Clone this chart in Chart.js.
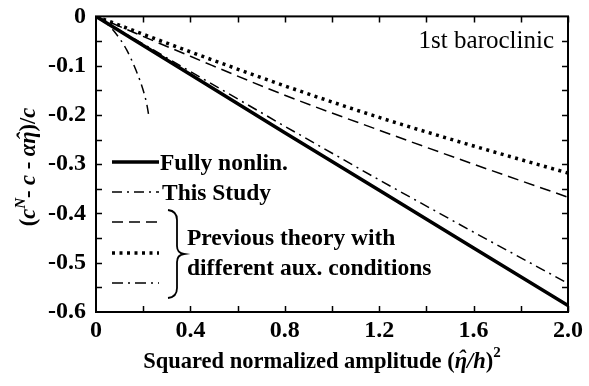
<!DOCTYPE html>
<html>
<head>
    <title>1st baroclinic phase speed</title>
    <script src="https://cdn.jsdelivr.net/npm/chart.js"></script>
    <style>
        body { margin: 0; background: #fff; }
        #wrap { width: 589px; height: 386px; }
    </style>
</head>
<body>
    <div id="wrap"><canvas id="speedChart" width="589" height="386"></canvas></div>
    <script>
        // values
        const xGrid = [0, 0.4, 0.8, 1.2, 1.6, 2.0];
        const fullyNonlin = [0, -0.118, -0.236, -0.353, -0.470, -0.587];
        const thisStudy = [0, -0.112, -0.223, -0.332, -0.438, -0.542];
        const prevDashed = [0, -0.081, -0.160, -0.231, -0.300, -0.367];
        const prevDotted = [0, -0.072, -0.141, -0.205, -0.263, -0.318];
        const prevDashDotX = [0, 0.04, 0.08, 0.13, 0.17, 0.20, 0.215, 0.225];
        const prevDashDotY = [0, -0.012, -0.032, -0.068, -0.110, -0.150, -0.178, -0.205];

        const xTickLabels = ['0', '0.4', '0.8', '1.2', '1.6', '2.0'];
        const yTickLabels = ['-0.6', '-0.5', '-0.4', '-0.3', '-0.2', '-0.1', '0'];

        const serif = '"Liberation Serif", "Times New Roman", serif';
        const toPts = (xs, ys) => xs.map((x, i) => ({ x: x, y: ys[i] }));

        // draw a run of text pieces with different fonts; hat: true puts a circumflex on top
        function drawRuns(ctx, runs, x, y) {
            let cx = x;
            runs.forEach(r => {
                ctx.font = r.font;
                const w = ctx.measureText(r.t).width;
                ctx.fillText(r.t, cx, y + (r.dy || 0));
                if (r.hat) {
                    ctx.save();
                    ctx.textAlign = 'center';
                    ctx.fillText('\u02C6', cx + w / 2 + 1, y - 2);
                    ctx.restore();
                }
                cx += w + (r.gap || 0);
            });
            return cx - x;
        }
        function runsWidth(ctx, runs) {
            let w = 0;
            runs.forEach(r => { ctx.font = r.font; w += ctx.measureText(r.t).width + (r.gap || 0); });
            return w;
        }

        const decorations = {
            id: 'decorations',
            afterDraw(chart) {
                const ctx = chart.ctx;
                const xs = chart.scales.x, ys = chart.scales.y;
                const a = chart.chartArea;
                ctx.save();
                ctx.strokeStyle = '#000';
                ctx.fillStyle = '#000';

                // box
                ctx.lineWidth = 2;
                ctx.strokeRect(a.left, a.top, a.right - a.left, a.bottom - a.top);

                // inward ticks on all four sides
                ctx.lineWidth = 1.5;
                ctx.beginPath();
                for (let v = 0.2; v < 2.0; v += 0.2) {
                    const px = Math.round(xs.getPixelForValue(v)) + 0.5;
                    ctx.moveTo(px, a.bottom); ctx.lineTo(px, a.bottom - 6);
                    ctx.moveTo(px, a.top); ctx.lineTo(px, a.top + 6);
                }
                for (let v = -0.05; v > -0.6; v -= 0.05) {
                    const py = Math.round(ys.getPixelForValue(v)) + 0.5;
                    ctx.moveTo(a.left, py); ctx.lineTo(a.left + 6, py);
                    ctx.moveTo(a.right, py); ctx.lineTo(a.right - 6, py);
                }
                ctx.stroke();

                // legend samples
                const sx0 = 112, sx1 = 159;
                const sample = (y, w, dash) => {
                    ctx.lineWidth = w;
                    ctx.setLineDash(dash);
                    ctx.beginPath();
                    ctx.moveTo(sx0, y); ctx.lineTo(sx1, y);
                    ctx.stroke();
                };
                sample(162, 3.5, []);
                sample(192, 1.5, [10, 5, 2, 5]);
                sample(222, 1.5, [11, 6]);
                sample(253, 3.5, [3, 4.5]);
                sample(283, 1.5, [11, 5, 2, 5]);
                ctx.setLineDash([]);

                // brace
                ctx.lineWidth = 1.8;
                ctx.beginPath();
                ctx.moveTo(168, 210);
                ctx.quadraticCurveTo(177, 211, 177, 220);
                ctx.lineTo(177, 246);
                ctx.quadraticCurveTo(177, 253, 184, 254);
                ctx.quadraticCurveTo(177, 255, 177, 262);
                ctx.lineTo(177, 288);
                ctx.quadraticCurveTo(177, 297, 168, 298);
                ctx.stroke();

                // legend text
                ctx.textBaseline = 'alphabetic';
                ctx.textAlign = 'left';
                ctx.font = 'bold 23.5px ' + serif;
                ctx.fillText('Fully nonlin.', 160, 170);
                ctx.fillText('This Study', 162, 200);
                ctx.fillText('Previous theory with', 187, 245);
                ctx.fillText('different aux. conditions', 187, 275);

                // panel label
                ctx.font = '25px ' + serif;
                ctx.textAlign = 'right';
                ctx.fillText('1st baroclinic', 554, 48);
                ctx.textAlign = 'left';

                // x title
                const reg = 'bold 22.5px ' + serif;
                const ita = 'italic bold 22.5px ' + serif;
                const sup = 'bold 15px ' + serif;
                const xRuns = [
                    { t: 'Squared normalized amplitude (', font: reg },
                    { t: '\u03B7', font: ita, hat: true },
                    { t: '/h', font: ita },
                    { t: ')', font: reg },
                    { t: '2', font: sup, dy: -11 }
                ];
                const xw = runsWidth(ctx, xRuns);
                drawRuns(ctx, xRuns, 322 - xw / 2, 368);

                // y title (rotated)
                const supI = 'italic bold 15px ' + serif;
                const yRuns = [
                    { t: '(', font: reg },
                    { t: 'c', font: ita },
                    { t: 'N', font: supI, dy: -10 },
                    { t: '- ', font: reg },
                    { t: 'c', font: ita },
                    { t: ' - ', font: reg },
                    { t: '\u03B1', font: ita },
                    { t: '\u03B7', font: ita, hat: true },
                    { t: ')/', font: reg },
                    { t: 'c', font: ita }
                ];
                const yw = runsWidth(ctx, yRuns);
                ctx.translate(35, 167);
                ctx.rotate(-Math.PI / 2);
                drawRuns(ctx, yRuns, -yw / 2, 0);
                ctx.restore();
            }
        };

        const tickFont = { family: serif, size: 24, weight: 'bold' };

        new Chart(document.getElementById('speedChart'), {
            type: 'line',
            data: {
                datasets: [
                    { label: 'Fully nonlin.', data: toPts(xGrid, fullyNonlin), borderColor: '#000', borderWidth: 3.5, pointRadius: 0, tension: 0 },
                    { label: 'This Study', data: toPts(xGrid, thisStudy), borderColor: '#000', borderWidth: 1.5, borderDash: [10, 5, 2, 5], pointRadius: 0, tension: 0 },
                    { label: 'Previous (dashed)', data: toPts(xGrid, prevDashed), borderColor: '#000', borderWidth: 1.5, borderDash: [11, 6], pointRadius: 0, cubicInterpolationMode: 'monotone' },
                    { label: 'Previous (dotted)', data: toPts(xGrid, prevDotted), borderColor: '#000', borderWidth: 3.5, borderDash: [3, 4.5], pointRadius: 0, cubicInterpolationMode: 'monotone' },
                    { label: 'Previous (dash-dot)', data: toPts(prevDashDotX, prevDashDotY), borderColor: '#000', borderWidth: 1.5, borderDash: [9, 5, 2, 5], pointRadius: 0, cubicInterpolationMode: 'monotone' }
                ]
            },
            options: {
                responsive: false,
                animation: false,
                layout: { padding: { left: 0, top: 16, right: 21, bottom: 0 } },
                plugins: { legend: { display: false }, tooltip: { enabled: false } },
                scales: {
                    x: {
                        type: 'linear', min: 0, max: 2.0,
                        grid: { display: false }, border: { display: false },
                        ticks: {
                            stepSize: 0.4, color: '#000', font: tickFont, padding: -4, maxRotation: 0,
                            callback: (v, i) => xTickLabels[i]
                        },
                        afterFit: s => { s.height = 74; }
                    },
                    y: {
                        type: 'linear', min: -0.6, max: 0,
                        grid: { display: false }, border: { display: false },
                        ticks: {
                            stepSize: 0.1, color: '#000', font: tickFont, padding: 2,
                            callback: (v, i) => yTickLabels[i]
                        },
                        afterFit: s => { s.width = 96; }
                    }
                }
            },
            plugins: [decorations]
        });
    </script>
</body>
</html>
